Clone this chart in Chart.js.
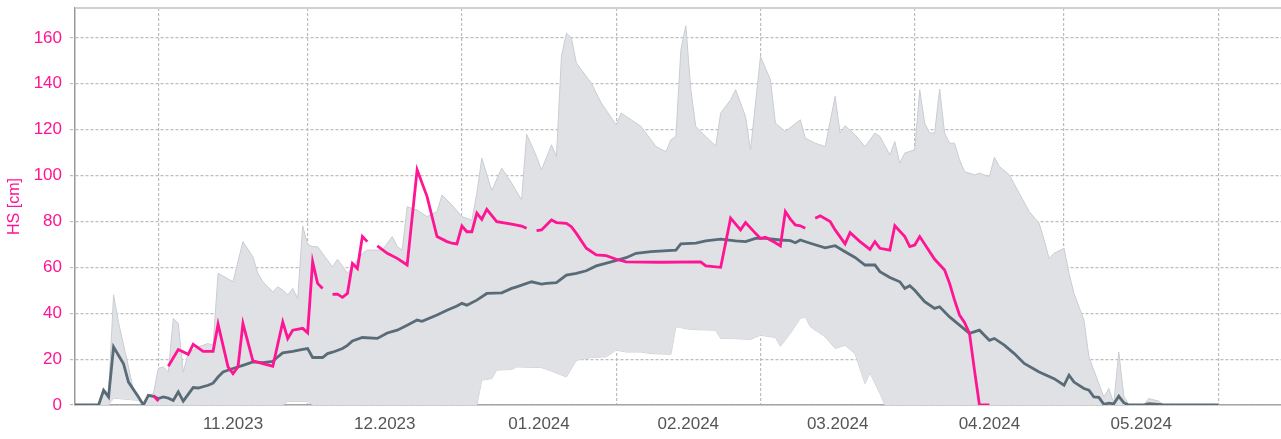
<!DOCTYPE html>
<html>
<head>
<meta charset="utf-8">
<script src="https://cdn.jsdelivr.net/npm/chart.js@4"></script>
<style>
  html, body { margin: 0; padding: 0; background: #ffffff; }
  #wrap { width: 1281px; height: 439px; position: relative; }
</style>
</head>
<body>
<div id="wrap"><canvas id="c"></canvas></div>
<script>
// x values are days counted from 1 Oct 2023 (day 31 = 1 Nov 2023, day 244 = 1 Jun 2024)
const monthStarts = [31, 61, 92, 123, 152, 183, 213, 244];
const monthLabelDays = [46, 76.5, 107.5, 137.5, 167.5, 198, 228.5];
const monthLabels = ['11.2023', '12.2023', '01.2024', '02.2024', '03.2024', '04.2024', '05.2024'];
const yTicks = [0, 20, 40, 60, 80, 100, 120, 140, 160];

// current season snow height HS [cm] (null = missing)
const hsDays = [30,31,32,33,35,37,38,40,42,43,45,46,47,48,50,52,54,56,57,58,60,61,62,63,64,65,66,67,68,69,70,71,72,73,74,75,77,79,81,83,85,87,89,90,91,92,93,94,95,96,97,99,102,104,105,106,107,108,110,111,113,114,115,117,119,121,123,125,132,140,141,144,146,148,149,151,152,153,155,156,157,158,159,160,161,162,163,164,166,167,169,170,172,174,175,176,178,179,181,182,183,184,186,187,189,190,191,192,193,194,195,196,198];
const hsValues = [4.2,1.7,null,16.9,24.2,22.1,26.4,23.4,23.4,35.2,16.6,13.7,16.6,35.5,19.2,18,16.9,36.2,29,32.6,33.4,31.5,62.4,53,50.8,null,48.2,48.3,46.9,48.6,61.7,59.5,73.4,71.2,null,69.3,66.1,63.9,61,102.5,90.8,73.4,71.2,70.5,70.2,78,75.5,75.5,83.6,80.9,85.3,79.9,78.8,78,77,null,76,76.3,80.6,79.5,79.2,77.7,74.8,68.3,65.4,65.1,63.5,62.4,62.2,62.4,60.6,60,81.4,76.3,79.5,74.8,72.6,73.1,70.7,69.3,84.3,81,78.5,78.1,77,null,81.4,82.4,79.9,76.3,70.2,75.1,71.2,67.8,71.2,68.3,67.5,78.1,73.4,69,69.7,73.4,66.8,63.5,58.8,53,45.7,39.2,36,31.2,15.2,0,0];

// long-term mean HS [cm]
const meanDays = [14,19,20,21,22,24,25,27,28,29,30,31,32,33,34,35,36,38,39,41,42,43,44,46,48,50,52,54,55,56,58,60,61,62,64,65,66,68,69,70,72,75,77,79,81,83,84,87,89,91,92,93,95,97,100,102,103,106,108,109,111,113,115,117,119,122,125,127,130,135,136,139,141,144,147,149,151,153,156,158,159,160,162,165,167,169,171,173,175,176,178,180,181,182,183,185,187,188,190,192,194,196,198,199,201,203,205,208,211,213,214,215,217,218,219,220,221,222,223,224,225,226,229,230,232,233,244];
const meanValues = [0,0,6.4,3.5,25.3,18,10,3.5,0,4.2,3.8,2.8,3.5,3,2,5.7,1.7,7.6,7.4,8.6,9.5,12.2,14.4,15.9,17.3,18.8,18.5,19,21,22.7,23.4,24.2,24.6,20.7,20.7,22.4,23,24.6,26,27.9,29.4,29,31.4,32.6,34.8,37,36.5,39.2,41.3,43.1,44.3,43.5,45.7,48.6,48.9,50.8,51.5,53.7,52.7,53,53.3,56.6,57.4,58.5,60.6,62.4,64.2,66.1,66.8,67.5,70.2,70.5,71.5,72.3,71.5,71.2,72.6,72.6,71.9,71.6,70.7,71.9,70.5,68.5,69.4,66.8,64.3,61,61,58.1,55.6,53.7,50.8,52,50,45,42.1,42.8,38.4,34.8,31.2,32.6,28.2,29,26.1,22.4,18.1,14.4,11.5,8.6,13,10,7.2,6.5,3.5,3.3,0.3,0.8,0.5,3.8,1,0,0,0.6,0.3,0,0];

// long-term maximum HS [cm]
const maxDays = [14,19,20,21,22,23,25,26,27,28,29,30,31,32,33,34,35,36,37,38,39,41,42,43,44,46,48,50,51,52,54,55,56,57,58,59,60,61,62,63,64,66,67,69,72,73,76,78,79,80,81,83,85,87,88,90,92,94,95,96,98,100,102,103,104,105,107,108,110,111,112,113,114,115,118,120,123,124,126,128,131,133,134,135,136,137,138,139,141,143,144,146,147,149,150,151,152,154,155,157,160,161,163,165,167,168,169,171,173,175,176,178,179,180,181,183,184,185,186,187,188,189,190,191,192,193,195,196,198,199,200,202,204,206,208,209,210,211,213,214,215,217,218,220,221,222,223,224,225,226,229,230,232,233,244];
const maxValues = [0,0,7,5,48,36,16.6,6.4,3,0,4.2,5,16,16.6,14.4,37.7,35.5,14.4,22.4,23.9,25.3,26.8,26,57.4,56.2,53.7,71.2,64.6,57.4,53.7,49.3,51.5,50.1,47.9,50.8,46.4,78,70,69,69,66,60.2,63.5,57.4,66.1,67.5,67.5,73.4,69,67.5,86.4,85,82.1,84.3,91.5,87.2,82.1,80.5,92.3,107.6,93.5,103.2,96.7,93,89.4,118,108.3,102.5,113.4,108.3,152,162,160,149,140.3,131.6,122.1,127.2,124.3,121.4,112.6,110.4,115.6,117,154.8,165.3,137.4,121.4,117,112.9,127.2,133,137.4,125.7,111.2,131.6,151.9,141.8,122.8,119.2,124.3,116.3,114.1,112.6,134.5,118.5,121.7,117.8,112.6,118.5,117,109,114.8,105.4,109.8,111.2,137.4,122.8,118.5,118.5,137.7,118.5,114.1,114.1,106.8,101.7,100.3,101,99.5,108,103.9,100.3,92.3,84.3,79.2,71.9,63.9,66.1,68.3,57.4,48.6,37,21,9.3,3.5,7.2,0.6,23.1,4,0,0,2.8,1.7,0,0];

// long-term minimum HS [cm]
const minDays = [14,21,22,27,28,56,57,61,62,95,96,98,99,102,103,108,110,113,115,118,121,123,125,128,130,134,135,138,143,144,146,150,152,155,156,158,160,161,162,165,167,169,171,173,174,176,177,244];
const minValues = [0,0,3,2,0,0,1.5,1.5,0,0,10.8,11.5,15.2,15.5,16.6,16.3,14.8,12.2,19.5,20.7,21,23.9,23.1,23.1,22.4,22.1,34.1,32.9,32.6,29,29,28.6,30.4,29.4,25.6,31.2,37.7,38.4,34.1,29.7,24.6,26,22.4,9.3,14,5,0,0];

const pts = (xs, ys) => xs.map((x, i) => ({ x: x, y: ys[i] }));

const PINK = '#ff1493';
const GRID = '#bdbdbd';
const FONT = "'Liberation Sans', Arial, sans-serif";

const frame = {
  id: 'frame',
  beforeDatasetsDraw(chart) {
    const { ctx, chartArea: a } = chart;
    ctx.save();
    ctx.strokeStyle = '#d0d0d0';
    ctx.lineWidth = 2;
    ctx.beginPath();
    ctx.moveTo(a.left, a.top);
    ctx.lineTo(a.right, a.top);
    ctx.stroke();
    ctx.restore();
  }
};

const noPad = s => { s.paddingTop = 0; s.paddingBottom = 0; s.paddingLeft = 0; s.paddingRight = 0; };

new Chart(document.getElementById('c'), {
  type: 'line',
  data: {
    datasets: [
      { data: pts(hsDays, hsValues), borderColor: PINK, borderWidth: 2.8, fill: false, spanGaps: false },
      { data: pts(meanDays, meanValues), borderColor: '#5a6b78', borderWidth: 2.8, fill: false },
      { data: pts(maxDays, maxValues), borderColor: '#c9cdd2', borderWidth: 1, backgroundColor: '#dfe1e4', fill: '+1' },
      { data: pts(minDays, minValues), borderColor: '#c9cdd2', borderWidth: 1, fill: false }
    ]
  },
  options: {
    responsive: true,
    maintainAspectRatio: false,
    animation: false,
    devicePixelRatio: 1,
    layout: { padding: { top: 8, right: 0, left: 0, bottom: 0 } },
    elements: { point: { radius: 0 }, line: { tension: 0 } },
    plugins: { legend: { display: false }, tooltip: { enabled: false } },
    scales: {
      x: {
        type: 'linear',
        min: 14.25,
        max: 256.6,
        afterBuildTicks: s => {
          s.ticks = monthStarts.concat(monthLabelDays).sort((a, b) => a - b).map(v => ({ value: v }));
        },
        afterFit: s => { s.height = 34; noPad(s); },
        ticks: {
          autoSkip: false, maxRotation: 0, padding: 9, color: '#555555',
          font: { family: FONT, size: 17 },
          callback: v => { const i = monthLabelDays.indexOf(v); return i >= 0 ? monthLabels[i] : ''; }
        },
        grid: {
          color: c => (c.tick && monthStarts.includes(c.tick.value)) ? GRID : 'rgba(0,0,0,0)',
          lineWidth: 1.2,
          drawTicks: false
        },
        border: { display: true, color: '#a5a5a5', width: 1.5, dash: [3, 2] }
      },
      y: {
        min: 0,
        max: 173,
        afterBuildTicks: s => { s.ticks = yTicks.map(v => ({ value: v })); },
        afterFit: s => { s.width = 75; noPad(s); },
        ticks: { color: PINK, padding: 8, font: { family: FONT, size: 17 } },
        grid: { color: GRID, lineWidth: 1.2, tickLength: 5, tickColor: GRID, tickBorderDash: [3, 2] },
        border: { display: true, color: '#9a9a9a', width: 1.5, dash: [3, 2] },
        title: { display: true, text: 'HS [cm]', color: PINK, font: { family: FONT, size: 16 }, padding: { top: 5, bottom: 4 } }
      }
    }
  },
  plugins: [frame]
});
</script>
</body>
</html>
